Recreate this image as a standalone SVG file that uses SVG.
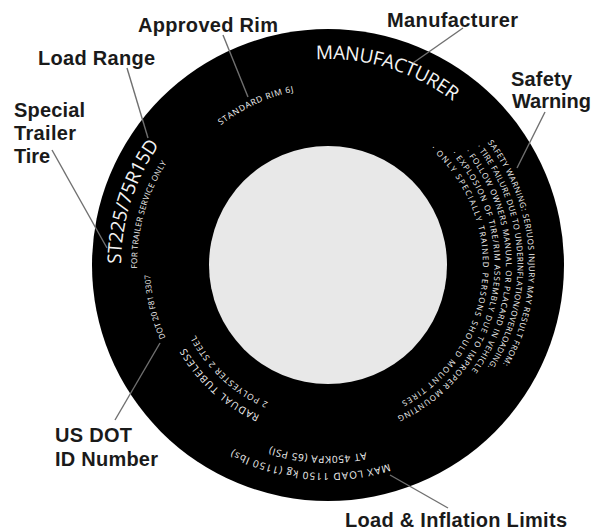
<svg xmlns="http://www.w3.org/2000/svg" width="593" height="531" viewBox="0 0 593 531">
<style>
.lbl{font-family:"Liberation Sans",Arial,sans-serif;font-weight:bold;font-size:20px;fill:#1a1a1a}
.tt{font-family:"Open Sans","Noto Sans",sans-serif;fill:#f4f4f4}
.ln{stroke:#707070;stroke-width:1.4;fill:none}
</style>
<defs>
<path id="pMan" d="M316.13,59.35 A206,206 0 0 1 485.8,132.6"/>
<path id="pRim" d="M220.85,125.36 A177,177 0 0 1 328,88"/>
<path id="pSize" d="M121,263.9 A207,207 0 0 1 224.5,85.7"/>
<path id="pTrl" d="M137.03,268.35 A191,191 0 0 1 232.5,99.6"/>
<path id="pDot" d="M165.52,337.68 A178,178 0 0 1 152.7,234.1"/>
<path id="pRad" d="M259.83,415.27 A165,165 0 0 1 165.5,293.65"/>
<path id="pPoly" d="M268.19,402.57 A150,150 0 0 1 180.3,291.05"/>
<path id="pMax" d="M389.16,463.8 A208,208 0 0 1 194.3,424.3"/>
<path id="pAt" d="M366.08,452.16 A191,191 0 0 1 218.4,421.5"/>
<path id="pS1" d="M487.47,142.63 A201,201 0 0 1 481.97,394.2"/>
<path id="pS2" d="M476.3,147.04 A189.5,189.5 0 0 1 462,399"/>
<path id="pS3" d="M465.34,151.77 A178,178 0 0 1 442.4,401.35"/>
<path id="pS4" d="M451.73,153.59 A166.5,166.5 0 0 1 356.91,428.97"/>
<path id="pS5" d="M430.7,148.9 A155,155 0 0 1 354.9,417.6"/>
</defs>

<g id="tire">
<circle cx="328" cy="265" r="236" fill="#000"/>
<circle cx="328" cy="265" r="119" fill="#e8e8e8"/>
</g>

<g id="tire-text">
<text class="tt" font-size="19"><textPath href="#pMan" textLength="146">MANUFACTURER</textPath></text>
<text class="tt" font-size="8.5"><textPath href="#pRim" textLength="81">STANDARD RIM 6J</textPath></text>
<text class="tt" font-size="19"><textPath href="#pSize" textLength="127">ST225/75R15D</textPath></text>
<text class="tt" font-size="8"><textPath href="#pTrl" textLength="111">FOR TRAILER SERVICE ONLY</textPath></text>
<text class="tt" font-size="8"><textPath href="#pDot" textLength="65">DOT 20 F81 3307</textPath></text>
<text class="tt" font-size="10"><textPath href="#pRad" textLength="102">RADUAL TUBELESS</textPath></text>
<text class="tt" font-size="8.5"><textPath href="#pPoly" textLength="101">2 POLYESTER 2 STEEL</textPath></text>
<text class="tt" font-size="10"><textPath href="#pMax" textLength="160.8">MAX LOAD 1150 kg (1150 lbs)</textPath></text>
<text class="tt" font-size="10"><textPath href="#pAt" textLength="97">AT 450KPA (65 PSI)</textPath></text>
<text class="tt" font-size="8"><textPath href="#pS1" textLength="235">SAFETY WARNING: SERIUOS INJURY MAY RESULT FROM:</textPath></text>
<text class="tt" font-size="8"><textPath href="#pS2" textLength="235">· TIRE FAILURE DUE TO UNDERINFLATION/OVERLOADING.</textPath></text>
<text class="tt" font-size="8"><textPath href="#pS3" textLength="235.5">· FOLLOW OWNERS MANUAL OR PLACARD IN VEHICLE</textPath></text>
<text class="tt" font-size="8"><textPath href="#pS4" textLength="312">· EXPLOSION OF TIRE/RIM ASSEMBLY DUE TO IMPROPER MOUNTING</textPath></text>
<text class="tt" font-size="8"><textPath href="#pS5" textLength="298">· ONLY SPECIALLY TRAINED PERSONS SHOULD MOUNT TIRES</textPath></text>
</g>

<g id="connectors">
<line class="ln" x1="223" y1="35" x2="248" y2="97"/>
<line class="ln" x1="127" y1="68" x2="148" y2="138"/>
<line class="ln" x1="52" y1="150" x2="107" y2="248"/>
<line class="ln" x1="463" y1="28" x2="413" y2="63"/>
<line class="ln" x1="545" y1="112" x2="517" y2="168"/>
<line class="ln" x1="160" y1="343" x2="115" y2="420"/>
<line class="ln" x1="390" y1="475" x2="448" y2="508"/>
</g>

<g id="label-approved-rim"><text class="lbl" x="138" y="31.5" textLength="140">Approved Rim</text></g>
<g id="label-load-range"><text class="lbl" x="38" y="65" textLength="117">Load Range</text></g>
<g id="label-special-trailer-tire">
<text class="lbl" x="14" y="117" textLength="71">Special</text>
<text class="lbl" x="14" y="140" textLength="62">Trailer</text>
<text class="lbl" x="14" y="163" textLength="36">Tire</text>
</g>
<g id="label-manufacturer"><text class="lbl" x="387" y="27" textLength="131">Manufacturer</text></g>
<g id="label-safety-warning">
<text class="lbl" x="511" y="86" textLength="61">Safety</text>
<text class="lbl" x="512" y="108" textLength="79">Warning</text>
</g>
<g id="label-us-dot">
<text class="lbl" x="55" y="442" textLength="77">US DOT</text>
<text class="lbl" x="55" y="466" textLength="103">ID Number</text>
</g>
<g id="label-load-inflation"><text class="lbl" x="345" y="527" textLength="222">Load &amp; Inflation Limits</text></g>
</svg>
